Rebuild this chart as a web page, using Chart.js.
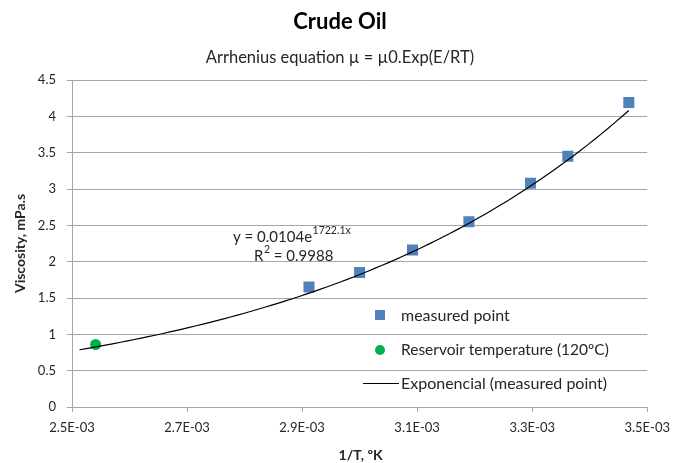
<!DOCTYPE html>
<html>
<head>
<meta charset="utf-8">
<script src="https://cdn.jsdelivr.net/npm/chart.js@4/dist/chart.umd.min.js"></script>
<style>
  html, body { margin: 0; padding: 0; background: #ffffff; }
  #wrap { width: 678px; height: 463px; }
</style>
</head>
<body>
<div id="wrap"><canvas id="chart" width="678" height="463"></canvas></div>
<script>
// Measured viscosity of the crude oil against reciprocal absolute temperature
const measuredInvT = [0.002912, 0.003000, 0.003092, 0.003190, 0.003297, 0.003362, 0.003468];
const measuredVisc = [1.65, 1.85, 2.16, 2.55, 3.08, 3.45, 4.19];

// Reservoir condition (120 ºC)
const reservoirInvT = [0.002541];
const reservoirVisc = [0.86];

// Exponential fit y = A·e^(B·x) and its plotted span
const fitA = 0.0104;
const fitB = 1722.1;
const fitR2 = 0.9988;
const fitFrom = 0.002513;
const fitTo = 0.003468;
const fitSteps = 80;

// Axis ticks
const xTickValues = [0.0025, 0.0027, 0.0029, 0.0031, 0.0033, 0.0035];
const yTickValues = [0, 0.5, 1, 1.5, 2, 2.5, 3, 3.5, 4, 4.5];

const FONT = 'Lato, "Open Sans", "Liberation Sans", sans-serif';
const TEXT = '#262626';
const GRID = '#a6a6a6';
const BLUE = '#4f81bd';
const GREEN = '#00b050';

const measuredPts = measuredInvT.map((x, i) => ({ x, y: measuredVisc[i] }));
const reservoirPts = reservoirInvT.map((x, i) => ({ x, y: reservoirVisc[i] }));
const fitPts = [];
for (let i = 0; i <= fitSteps; i++) {
  const x = fitFrom + (fitTo - fitFrom) * i / fitSteps;
  fitPts.push({ x, y: fitA * Math.exp(fitB * x) });
}

function fmtSci(v) {
  const [m, e] = v.toExponential(1).split('e');
  const n = parseInt(e, 10);
  const s = n < 0 ? '-' : '+';
  return m + 'E' + s + String(Math.abs(n)).padStart(2, '0');
}

const textPlugin = {
  id: 'chartText',
  afterDraw(chart) {
    const ctx = chart.ctx;
    const ca = chart.chartArea;
    ctx.save();
    ctx.fillStyle = '#000';
    ctx.textBaseline = 'middle';

    // Titles
    ctx.textAlign = 'center';
    ctx.font = 'bold 22px ' + FONT;
    ctx.fillText('Crude Oil', 340, 22);
    ctx.font = '16.5px ' + FONT;
    ctx.fillStyle = TEXT;
    ctx.fillText('Arrhenius equation \u00b5 = \u00b50.Exp(E/RT)', 340, 58);

    // Axis titles
    ctx.fillStyle = TEXT;
    ctx.font = 'bold 14px ' + FONT;
    ctx.fillText('1/T, \u00baK', (ca.left + ca.right) / 2 + 1, 455);
    ctx.save();
    ctx.translate(20, (ca.top + ca.bottom) / 2);
    ctx.rotate(-Math.PI / 2);
    ctx.fillText('Viscosity, mPa.s', 0, 0);
    ctx.restore();

    // Trendline equation
    ctx.textAlign = 'left';
    ctx.font = '15px ' + FONT;
    let x = 233;
    const t1 = 'y = ' + fitA.toString() + 'e';
    ctx.fillText(t1, x, 237);
    x += ctx.measureText(t1).width + 0.5;
    ctx.font = '10.5px ' + FONT;
    ctx.fillText(fitB.toString() + 'x', x, 231);
    ctx.font = '15px ' + FONT;
    x = 254;
    ctx.fillText('R', x, 256);
    x += ctx.measureText('R').width + 0.5;
    ctx.font = '10.5px ' + FONT;
    ctx.fillText('2', x, 250);
    x += ctx.measureText('2').width;
    ctx.font = '15px ' + FONT;
    ctx.fillText(' = ' + fitR2.toString(), x, 256);

    // Legend
    ctx.font = '16px ' + FONT;
    ctx.fillStyle = BLUE;
    ctx.fillRect(375, 310, 10, 10);
    ctx.fillStyle = TEXT;
    ctx.fillText('measured point', 401, 316);
    ctx.fillStyle = GREEN;
    ctx.beginPath();
    ctx.arc(380, 350, 5, 0, Math.PI * 2);
    ctx.fill();
    ctx.fillStyle = TEXT;
    ctx.font = '15.5px ' + FONT;
    ctx.fillText('Reservoir temperature (120\u00baC)', 401, 350);
    ctx.strokeStyle = '#000';
    ctx.lineWidth = 1.2;
    ctx.beginPath();
    ctx.moveTo(363, 383.5);
    ctx.lineTo(399, 383.5);
    ctx.stroke();
    ctx.font = '16px ' + FONT;
    ctx.fillText('Exponencial (measured point)', 401, 384);
    ctx.restore();
  }
};

new Chart(document.getElementById('chart'), {
  type: 'scatter',
  data: {
    datasets: [
      {
        label: 'Exponencial (measured point)',
        type: 'line',
        data: fitPts,
        borderColor: '#000',
        borderWidth: 1.2,
        pointRadius: 0,
        tension: 0,
        fill: false,
        order: 0
      },
      {
        label: 'measured point',
        data: measuredPts,
        pointStyle: 'rect',
        pointRadius: 7.8,
        backgroundColor: BLUE,
        borderColor: BLUE,
        borderWidth: 0,
        order: 1
      },
      {
        label: 'Reservoir temperature (120\u00baC)',
        data: reservoirPts,
        pointStyle: 'circle',
        pointRadius: 5.5,
        backgroundColor: GREEN,
        borderColor: GREEN,
        borderWidth: 0,
        order: 2
      }
    ]
  },
  options: {
    responsive: false,
    animation: false,
    layout: { padding: { top: 80, right: 28, left: 0, bottom: 0 } },
    plugins: {
      legend: { display: false },
      title: { display: false },
      tooltip: { enabled: false }
    },
    scales: {
      x: {
        type: 'linear',
        min: 0.0025,
        max: 0.0035,
        afterBuildTicks(scale) { scale.ticks = xTickValues.map(v => ({ value: v })); },
        afterFit(scale) { scale.height = 56; },
        ticks: {
          callback: v => fmtSci(v),
          font: { family: FONT, size: 13 },
          color: TEXT,
          padding: 8,
          maxRotation: 0,
          autoSkip: false
        },
        grid: { drawOnChartArea: false, drawTicks: true, tickLength: 5, color: GRID },
        border: { display: true, color: GRID, width: 1 }
      },
      y: {
        type: 'linear',
        min: 0,
        max: 4.5,
        afterBuildTicks(scale) { scale.ticks = yTickValues.map(v => ({ value: v })); },
        afterFit(scale) { scale.width = 72; },
        ticks: {
          callback: v => String(v),
          font: { family: FONT, size: 13 },
          color: TEXT,
          padding: 11,
          autoSkip: false
        },
        grid: { drawOnChartArea: true, drawTicks: true, tickLength: 5, color: GRID, lineWidth: 1 },
        border: { display: true, color: GRID, width: 1 }
      }
    }
  },
  plugins: [textPlugin]
});
</script>
</body>
</html>
